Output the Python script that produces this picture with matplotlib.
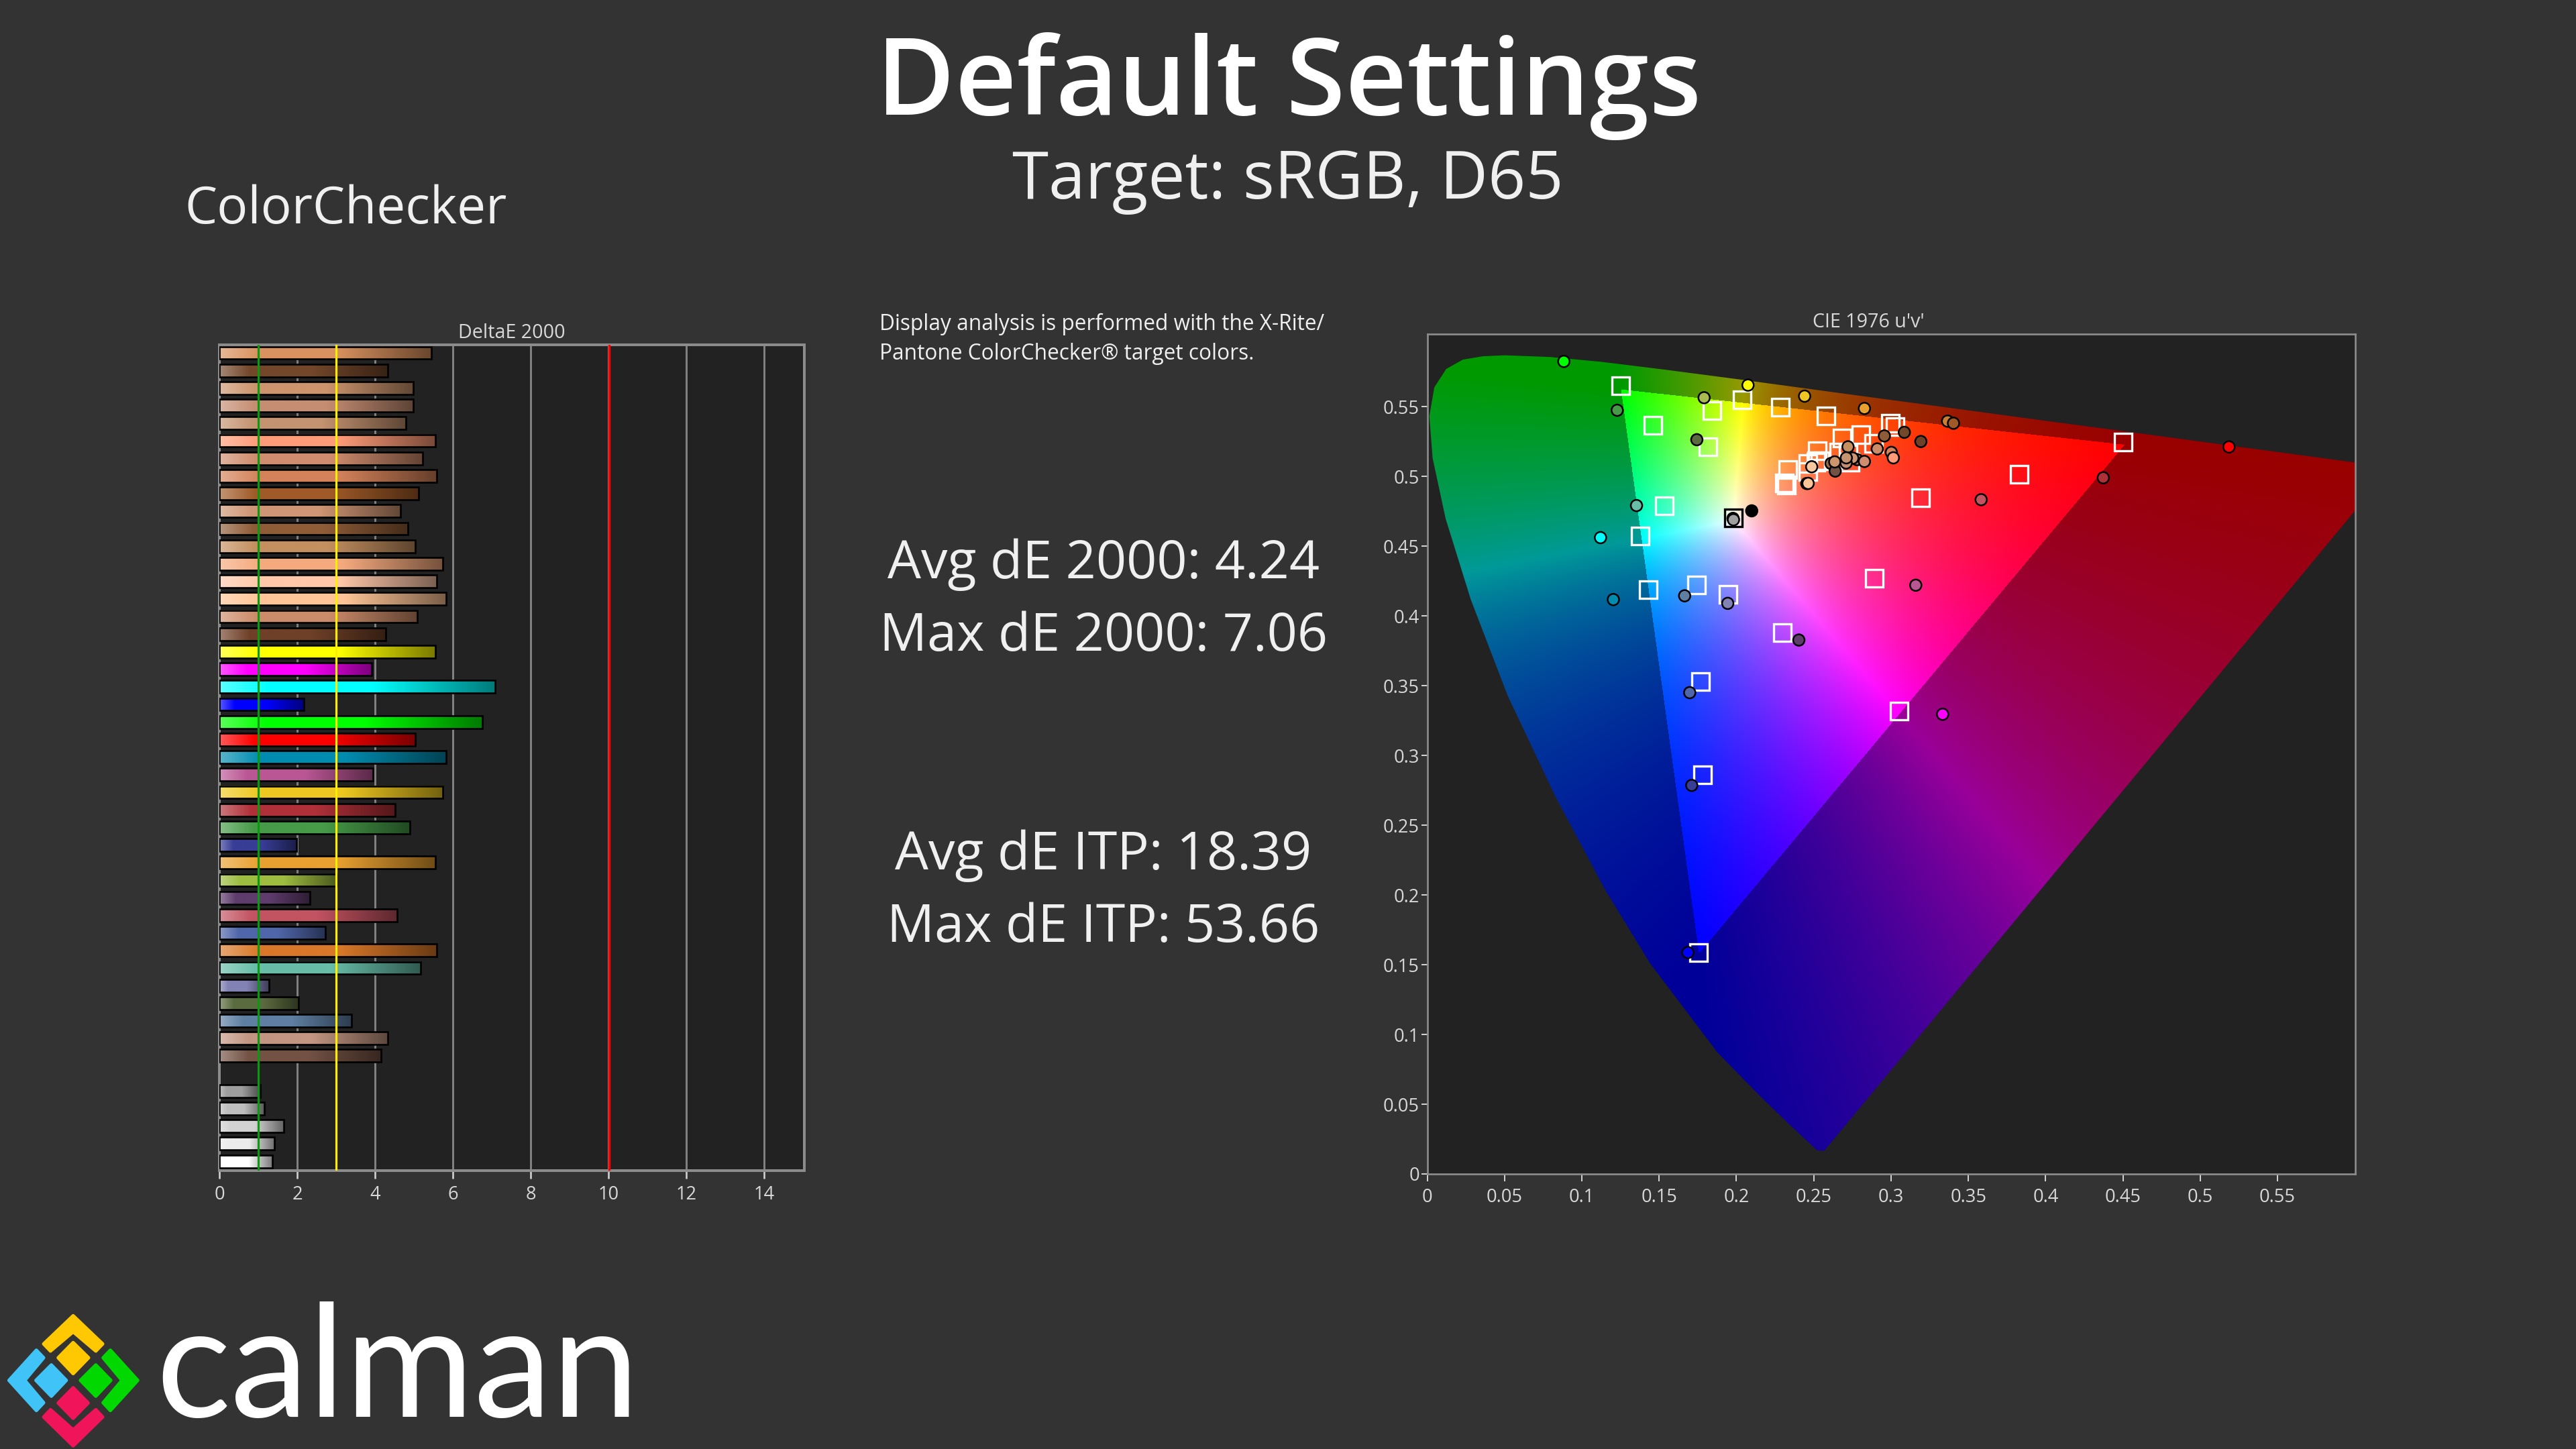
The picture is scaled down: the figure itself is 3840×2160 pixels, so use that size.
"""Calman ColorChecker report slide: DeltaE bars and CIE 1976 u'v' chart."""
import matplotlib
matplotlib.use('Agg')
import matplotlib.pyplot as plt
from matplotlib.colors import to_rgb
from matplotlib.patches import Polygon, Rectangle
import numpy as np

plt.rcParams['font.family'] = ['Open Sans', 'DejaVu Sans']

BG = '#333333'
PLOT_BG = '#222222'
FRAME = '#8c8c8c'
TEXT = '#d8d8d8'

# ---------- DeltaE bars (None = blank row) ----------
delta_e = [5.45, 4.32, 4.98, 4.98, 4.79, 5.55, 5.22, 5.59, 5.12, 4.65, 4.84, 5.03,
           5.74, 5.59, 5.82, 5.08, 4.27, 5.55, 3.92, 7.09, 2.18, 6.76, 5.03, 5.82,
           3.95, 5.74, 4.51, 4.89, 1.99, 5.55, 3.01, 2.33, 4.56, 2.73, 5.59, 5.17,
           1.27, 2.04, 3.39, 4.32, 4.15, None, 1.05, 1.15, 1.65, 1.41, 1.36]
bar_colors = ['#D9925F', '#73472A', '#CC956E', '#C58E73', '#C49370', '#FF9B78',
              '#CF8C6E', '#D3825A', '#A05A28', '#CE9674', '#8F5C38', '#C49060',
              '#F5AA7E', '#FFC8AA', '#FFC596', '#CC8C6A', '#6E4028', '#FFFF00',
              '#FF00FF', '#00FFFF', '#0000FF', '#00FF00', '#FF0000', '#008CAF',
              '#BB5695', '#EEC820', '#AF3039', '#469A48', '#383D96', '#E8A030',
              '#9DBC40', '#5E3C6C', '#C25361', '#5066AA', '#D97828', '#67BDA8',
              '#8282B4', '#5B6B40', '#5E7FA2', '#C29682', '#735244', None,
              '#9E9E9E', '#BEBEBE', '#D2D2D2', '#EBEBEB', '#FFFFFF']
bar_ticks = [0, 2, 4, 6, 8, 10, 12, 14]

# ---------- CIE 1976 chart ----------
locus_u = [.2568, .2522, .2347, .2161, .1877, .1441, .1147, .0828, .0521, .0282,
           .0119, .0035, .0014, .0046, .0123, .0231, .0360, .0501, .0792, .1127,
           .1531, .2026, .2623, .3315, .4035, .4692, .5203, .5565, .6005, .6234]
locus_v = [.0166, .0169, .0350, .0549, .0871, .1510, .2044, .2708, .3427, .4117,
           .4698, .5131, .5432, .5638, .5770, .5837, .5861, .5868, .5856, .5821,
           .5766, .5694, .5604, .5501, .5393, .5296, .5219, .5165, .5099, .5065]
cie_ticks = [0, .05, .1, .15, .2, .25, .3, .35, .4, .45, .5, .55]
cie_tick_labels = ['0', '0.05', '0.1', '0.15', '0.2', '0.25', '0.3', '0.35', '0.4',
                   '0.45', '0.5', '0.55']

target_u = [.1250, .1458, .1840, .2039, .2284, .2579, .1815, .1532, .1379, .1429,
            .1744, .1944, .2296, .1769, .1781, .1755, .3052, .2890, .3193, .3829,
            .4501, .2995, .3027, .2683, .2805, .2889, .2522, .2661, .2723, .2737,
            .2332, .2463, .2463, .2513, .2542, .2520, .2311, .2322]
target_v = [.5652, .5368, .5473, .5550, .5498, .5434, .5211, .4791, .4573, .4190,
            .4220, .4156, .3881, .3528, .2863, .1587, .3320, .4272, .4846, .5015,
            .5248, .5381, .5356, .5276, .5301, .5237, .5184, .5176, .5160, .5104,
            .5051, .5093, .5032, .5104, .5112, .5112, .4952, .4939]
white_u, white_v = .1981, .4703

meas_u = [.2075, .1791, .2441, .2828, .3366, .3404, .1744, .2957, .3086, .3193,
          .2911, .3002, .3015, .2722, .2781, .2752, .2828, .2612, .2639, .2636,
          .2710, .2711, .2487, .2455, .2464, .1978, .1981, .2099, .0884, .1229,
          .1354, .1121, .1204, .1665, .1944, .2404, .1698, .1711, .1686, .3334,
          .3160, .3583, .4373, .5186]
meas_v = [.5654, .5564, .5575, .5487, .5396, .5381, .5263, .5290, .5316, .5250,
          .5197, .5172, .5133, .5212, .5120, .5131, .5107, .5093, .5038, .5104,
          .5096, .5133, .5069, .4949, .4950, .4699, .4689, .4753, .5824, .5474,
          .4791, .4561, .4117, .4144, .4090, .3827, .3450, .2785, .1587, .3295,
          .4220, .4833, .4990, .5211]
meas_colors = ['#FFFF00', '#A9BA50', '#EEC820', '#E8A030', '#CC7F30', '#A05A28',
               '#5B6B40', '#8F5C38', '#73472A', '#6E4028', '#CC8C6A', '#D3825A',
               '#FF9B78', '#C49060', '#A07050', '#CE9674', '#CF8C6E', '#9A6A4C',
               '#735244', '#CC956E', '#C58E73', '#C49370', '#F5C8A0', '#C29682',
               '#FFC596', '#707070', '#A0A0A0', '#000000', '#00FF00', '#469A48',
               '#67BDA8', '#00FFFF', '#008CAF', '#5E7FA2', '#8282B4', '#5E3C6C',
               '#5066AA', '#383D96', '#0000FF', '#FF00FF', '#BB5695', '#C25361',
               '#AF3039', '#FF0000']

# XYZ -> linear sRGB
XYZ_TO_RGB = np.array([[3.2406, -1.5372, -0.4986],
                       [-0.9689, 1.8758, 0.0415],
                       [0.0557, -0.2040, 1.0570]])


def add_px_axes(left, top, right, bottom):
    return fig.add_axes([left / 3840, 1 - bottom / 2160,
                         (right - left) / 3840, (bottom - top) / 2160])


def gamut_image(u, v):
    """RGB picture of the u'v' plane: full colour in sRGB, darker outside."""
    v = np.maximum(v, 1e-4)
    X = 9 * u / (4 * v)
    Z = (12 - 3 * u - 20 * v) / (4 * v)
    xyz = np.stack([X, np.ones_like(X), Z], axis=-1)
    rgb = xyz @ XYZ_TO_RGB.T
    inside = (rgb >= 0).all(axis=-1)
    rgb = np.clip(rgb, 0, None)
    rgb = rgb / rgb.max(axis=-1, keepdims=True)
    rgb[~inside] *= 0.6
    return rgb


fig = plt.figure(figsize=(16, 9), dpi=240, facecolor=BG)

# ---------- Slide texts and logo ----------
page = fig.add_axes([0, 0, 1, 1])
page.set_xlim(0, 3840)
page.set_ylim(2160, 0)
page.axis('off')

page.text(1921, 171, 'Default Settings', color='white', fontsize=48, weight='semibold',
          ha='center', va='baseline')
page.text(1920, 296, 'Target: sRGB, D65', color='#f0f0f0', fontsize=29.5,
          ha='center', va='baseline')
page.text(275, 333, 'ColorChecker', color='#f0f0f0', fontsize=23, va='baseline')
page.text(1311, 492, 'Display analysis is performed with the X-Rite/', color='#f0f0f0',
          fontsize=9.5, va='baseline')
page.text(1311, 536, 'Pantone ColorChecker® target colors.', color='#f0f0f0',
          fontsize=9.5, va='baseline')
for label, y in [('Avg dE 2000: 4.24', 862), ('Max dE 2000: 7.06', 970),
                 ('Avg dE ITP: 18.39', 1296), ('Max dE ITP: 53.66', 1404)]:
    page.text(1645, y, label, color='#f0f0f0', fontsize=23.7, ha='center', va='baseline')

logo_shapes = [
    ('#FFC800', [(171, 184), (240, 310), (224, 342), (171, 256), (118, 342), (102, 310)]),
    ('#FFC800', [(171, 304), (207, 372), (171, 443), (136, 372)]),
    ('#40C4F8', [(120, 404), (155, 473), (120, 544), (84, 473)]),
    ('#00D800', [(224, 404), (259, 473), (224, 544), (188, 473)]),
    ('#F0145A', [(171, 506), (206, 574), (171, 643), (136, 574)]),
    ('#40C4F8', [(21, 473), (85, 338), (102, 372), (58, 473), (102, 573), (85, 608)]),
    ('#00D800', [(322, 473), (258, 338), (241, 372), (285, 473), (241, 573), (258, 608)]),
    ('#F0145A', [(171, 766), (102, 637), (118, 604), (171, 694), (224, 604), (240, 637)]),
]
for color, pts in logo_shapes:
    px = [(x / 1.568, 1900 + y / 3) for x, y in pts]
    page.add_patch(Polygon(px, closed=True, facecolor=color, edgecolor=color,
                           linewidth=1.5, joinstyle='round'))
page.text(232, 2112, 'calman', color='white', fontsize=70, family='Lato', va='baseline')

# ---------- DeltaE 2000 bars ----------
ax = add_px_axes(327, 514, 1199, 1745)
ax.set_facecolor(PLOT_BG)
for g in bar_ticks[1:]:
    ax.axvline(g, color='#808080', linewidth=0.9, zorder=1)

bar_h = 0.72
for i, (val, col) in enumerate(zip(delta_e, bar_colors)):
    if val is None:
        continue
    base = np.array(to_rgb(col))
    f = np.linspace(0, 1, 200)
    tint = np.interp(f, [0, 0.18, 1], [0.35, 0, 0])[:, None]
    shade = np.interp(f, [0, 0.55, 1], [1, 1, 0.48])[:, None]
    grad = (base * (1 - tint) + tint) * shade
    ax.imshow(grad[None, :, :], extent=(0, val, i + bar_h / 2, i - bar_h / 2),
              aspect='auto', interpolation='bilinear', zorder=3)
    ax.add_patch(Rectangle((0, i - bar_h / 2), val, bar_h, facecolor='none',
                           edgecolor='black', linewidth=0.8, zorder=4))

ax.axvline(1, color='#0a9a10', linewidth=0.95, zorder=5)
ax.axvline(3, color='#ffee00', linewidth=0.95, zorder=5)
ax.axvline(10.02, color='#ff0000', linewidth=1.0, zorder=5)
ax.set_xlim(0, 15.03)
ax.set_ylim(46.53, -0.458)
ax.set_yticks([])
ax.set_xticks(bar_ticks)
ax.tick_params(axis='x', length=3.6, width=0.8, color='#d0d0d0', labelcolor=TEXT,
               labelsize=8.2, pad=3)
for s in ax.spines.values():
    s.set_color(FRAME)
    s.set_linewidth(1.2)
page.text(763, 504, 'DeltaE 2000', color=TEXT, fontsize=8.6, ha='center', va='baseline')

# ---------- CIE 1976 u'v' ----------
ax2 = add_px_axes(2127.5, 498, 3511, 1750)
ax2.set_facecolor(PLOT_BG)
uu, vv = np.meshgrid(np.linspace(0, 0.6003, 1384), np.linspace(0, 0.602, 1252))
img = ax2.imshow(gamut_image(uu, vv), origin='lower', extent=(0, 0.6003, 0, 0.602),
                 aspect='auto', interpolation='bilinear', zorder=1)
img.set_clip_path(Polygon(np.column_stack([locus_u, locus_v]), closed=True,
                          transform=ax2.transData))
ax2.plot(target_u, target_v, linestyle='none', marker='s', markersize=7.8, fillstyle='none',
         markeredgecolor='white', markeredgewidth=1.0, zorder=3)
ax2.plot([white_u], [white_v], linestyle='none', marker='s', markersize=7.8, fillstyle='none',
         markeredgecolor='black', markeredgewidth=1.0, zorder=3)
ax2.scatter(meas_u, meas_v, s=26, c=meas_colors, edgecolors='black', linewidths=0.75, zorder=4)
ax2.set_xlim(0, 0.6003)
ax2.set_ylim(0, 0.602)
ax2.set_xticks(cie_ticks)
ax2.set_xticklabels(cie_tick_labels)
ax2.set_yticks(cie_ticks)
ax2.set_yticklabels(cie_tick_labels)
ax2.tick_params(axis='x', length=3.4, width=0.6, color='#d0d0d0', labelcolor=TEXT,
                labelsize=8.2, pad=3)
ax2.tick_params(axis='y', length=2.7, width=0.6, color='#d0d0d0', labelcolor=TEXT,
                labelsize=8.2, pad=0.8)
for s in ax2.spines.values():
    s.set_color(FRAME)
    s.set_linewidth(0.8)
page.text(2785, 488, "CIE 1976 u'v'", color=TEXT, fontsize=8.6, ha='center', va='baseline')

fig.savefig('out.png', dpi=240, facecolor=BG)
